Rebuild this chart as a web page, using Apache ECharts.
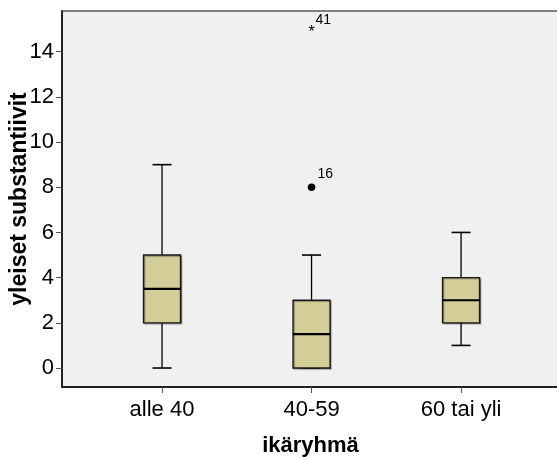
<!DOCTYPE html>
<html>
<head>
<meta charset="utf-8">
<script src="https://cdn.jsdelivr.net/npm/echarts@6/dist/echarts.min.js"></script>
<style>
  html, body { margin: 0; padding: 0; background: #ffffff; }
  #chart { width: 557px; height: 459px; }
</style>
</head>
<body>
<div id="chart"></div>
<script>
// Age groups and box-plot statistics for "yleiset substantiivit"
const categories = ['alle 40', '40-59', '60 tai yli'];
const whiskerLow = [0, 0, 1];
const quartile1 = [2, 0, 2];
const median = [3.5, 1.5, 3];
const quartile3 = [5, 3, 4];
const whiskerHigh = [9, 5, 6];

// Outliers: category index (1-based), value, case number, marker kind
const outlierCategory = [2, 2];
const outlierValue = [8, 15];
const outlierCase = ['16', '41'];
const outlierMark = ['circle', 'star'];

const yTicks = [0, 2, 4, 6, 8, 10, 12, 14];

const FONT = '"Liberation Sans", Arial, sans-serif';
const BOX_FILL = '#d3ce98';
const BOX_HALF = 18.5;
const CAP_HALF = 9.5;

const boxData = categories.map((c, i) => [
  i + 1, whiskerLow[i], quartile1[i], median[i], quartile3[i], whiskerHigh[i]
]);
const outlierData = outlierValue.map((v, i) => [
  outlierCategory[i], v, outlierCase[i], outlierMark[i]
]);

function renderBox(params, api) {
  const x = api.value(0);
  const pLow = api.coord([x, api.value(1)]);
  const pQ1 = api.coord([x, api.value(2)]);
  const pMed = api.coord([x, api.value(3)]);
  const pQ3 = api.coord([x, api.value(4)]);
  const pHigh = api.coord([x, api.value(5)]);
  const cx = pMed[0];
  const lineStyle = { stroke: '#000', lineWidth: 1.3 };
  return {
    type: 'group',
    children: [
      { type: 'line', shape: { x1: cx, y1: pHigh[1], x2: cx, y2: pQ3[1] }, style: lineStyle },
      { type: 'line', shape: { x1: cx, y1: pQ1[1], x2: cx, y2: pLow[1] }, style: lineStyle },
      { type: 'line', shape: { x1: cx - CAP_HALF, y1: pHigh[1], x2: cx + CAP_HALF, y2: pHigh[1] },
        style: { stroke: '#000', lineWidth: 1.6 } },
      { type: 'line', shape: { x1: cx - CAP_HALF, y1: pLow[1], x2: cx + CAP_HALF, y2: pLow[1] },
        style: { stroke: '#000', lineWidth: 1.6 } },
      { type: 'rect',
        shape: { x: cx - BOX_HALF, y: pQ3[1], width: BOX_HALF * 2, height: pQ1[1] - pQ3[1] },
        style: { fill: BOX_FILL, stroke: '#1a1a1a', lineWidth: 1.4,
                 shadowColor: 'rgba(0,0,0,0.35)', shadowOffsetX: 1, shadowOffsetY: 1, shadowBlur: 1 } },
      { type: 'line', shape: { x1: cx - BOX_HALF, y1: pMed[1], x2: cx + BOX_HALF, y2: pMed[1] },
        style: { stroke: '#000', lineWidth: 2.2 } }
    ]
  };
}

function renderOutlier(params, api) {
  const p = api.coord([api.value(0), api.value(1)]);
  const caseNo = outlierData[params.dataIndex][2];
  const kind = outlierData[params.dataIndex][3];
  const children = [];
  if (kind === 'circle') {
    children.push({ type: 'circle', shape: { cx: p[0], cy: p[1], r: 3.8 }, style: { fill: '#000' } });
    children.push({ type: 'text', x: p[0] + 6, y: p[1] - 13,
      style: { text: caseNo, font: '14px ' + FONT, fill: '#000', verticalAlign: 'middle', align: 'left' } });
  } else {
    children.push({ type: 'text', x: p[0], y: p[1] + 3.5,
      style: { text: '*', font: '16px ' + FONT, fill: '#000', verticalAlign: 'middle', align: 'center' } });
    children.push({ type: 'text', x: p[0] + 4, y: p[1] - 8.5,
      style: { text: caseNo, font: '14px ' + FONT, fill: '#000', verticalAlign: 'middle', align: 'left' } });
  }
  return { type: 'group', children };
}

const chart = echarts.init(document.getElementById('chart'), null, { renderer: 'canvas' });
chart.setOption({
  animation: false,
  backgroundColor: '#ffffff',
  grid: {
    left: 62, right: -2, top: 11, bottom: 72,
    containLabel: false,
    outerBoundsMode: 'none',
    show: true, backgroundColor: '#f0f0f0', borderColor: '#5a5a5a', borderWidth: 1.5
  },
  xAxis: {
    type: 'value',
    min: 0.331, max: 3.655,
    name: 'ikäryhmä',
    nameLocation: 'middle',
    nameGap: 48,
    nameMoveOverlap: false,
    nameTextStyle: { fontFamily: FONT, fontSize: 22, fontWeight: 'bold', color: '#000' },
    splitLine: { show: false },
    axisLine: { show: true, onZero: false, lineStyle: { color: '#000', width: 1.5 } },
    axisTick: { show: true, length: 6, customValues: [1, 2, 3], lineStyle: { color: '#555', width: 1 } },
    axisLabel: {
      customValues: [1, 2, 3],
      formatter: v => categories[Math.round(v) - 1] || '',
      fontFamily: FONT, fontSize: 22, color: '#000', margin: 12
    }
  },
  yAxis: {
    type: 'value',
    min: -0.84, max: 15.8,
    name: 'yleiset substantiivit',
    nameLocation: 'middle',
    nameGap: 31,
    nameMoveOverlap: false,
    nameTextStyle: { fontFamily: FONT, fontSize: 23, fontWeight: 'bold', color: '#000' },
    splitLine: { show: false },
    axisLine: { show: true, onZero: false, lineStyle: { color: '#000', width: 1.5 } },
    axisTick: { show: true, length: 6, customValues: yTicks, lineStyle: { color: '#555', width: 1 } },
    axisLabel: {
      customValues: yTicks,
      fontFamily: FONT, fontSize: 22, color: '#000', margin: 8
    }
  },
  series: [
    {
      type: 'custom',
      renderItem: renderBox,
      data: boxData,
      encode: { x: 0, y: [1, 2, 3, 4, 5] },
      clip: false
    },
    {
      type: 'custom',
      renderItem: renderOutlier,
      data: outlierData.map(d => [d[0], d[1]]),
      encode: { x: 0, y: 1 },
      clip: false
    }
  ]
});
</script>
</body>
</html>
